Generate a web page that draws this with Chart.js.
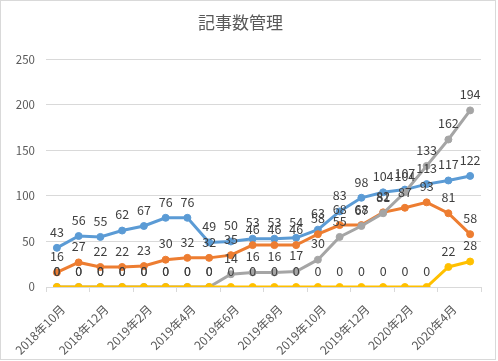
<!DOCTYPE html>
<html>
<head>
<meta charset="utf-8">
<script src="https://cdn.jsdelivr.net/npm/chart.js@4"></script>
<style>
  html, body { margin: 0; padding: 0; background: #fff; }
  #frame { position: absolute; left: 0; top: 0; width: 494px; height: 358px; border: 1px solid #d9d9d9; }
  #wrap { position: absolute; left: 0; top: 0; width: 498px; height: 361px; }
</style>
</head>
<body>
<div id="frame"></div>
<div id="wrap"><canvas id="chart"></canvas></div>
<script>
// Months (one point per month)
const months = [
    '2018年10月', '2018年11月', '2018年12月', '2019年1月', '2019年2月',
    '2019年3月', '2019年4月', '2019年5月', '2019年6月', '2019年7月',
    '2019年8月', '2019年9月', '2019年10月', '2019年11月', '2019年12月',
    '2020年1月', '2020年2月', '2020年3月', '2020年4月', '2020年5月'
];

// Series values
const series1 = [43, 56, 55, 62, 67, 76, 76, 49, 50, 53, 53, 54, 63, 83, 98, 104, 107, 113, 117, 122];
const series2 = [16, 27, 22, 22, 23, 30, 32, 32, 35, 46, 46, 46, 58, 68, 68, 82, 87, 93, 81, 58];
const series3 = [0, 0, 0, 0, 0, 0, 0, 0, 14, 16, 16, 17, 30, 55, 67, 81, 104, 133, 162, 194];
const series4 = [0, 0, 0, 0, 0, 0, 0, 0, 0, 0, 0, 0, 0, 0, 0, 0, 0, 0, 22, 28];

const seriesNames = ['系列1', '系列2', '系列3', '系列4'];
const yTicks = [0, 50, 100, 150, 200, 250];

const FONT = '"Noto Sans CJK JP", "Noto Sans", sans-serif';

// Value labels above every point
const pointLabels = {
    id: 'pointLabels',
    afterDatasetsDraw(chart) {
        const ctx = chart.ctx;
        ctx.save();
        ctx.font = '12.5px ' + FONT;
        ctx.fillStyle = '#404040';
        ctx.textAlign = 'center';
        ctx.textBaseline = 'middle';
        chart.data.datasets.forEach((ds, i) => {
            const meta = chart.getDatasetMeta(i);
            meta.data.forEach((pt, j) => {
                ctx.fillText(String(ds.data[j]), pt.x, pt.y - 16);
            });
        });
        ctx.restore();
    }
};

function makeSet(label, data, color, order) {
    return {
        label: label,
        data: data,
        borderColor: color,
        backgroundColor: color,
        borderWidth: 3,
        pointRadius: 3.5,
        pointBorderWidth: 1,
        pointBackgroundColor: color,
        pointBorderColor: color,
        tension: 0,
        order: order
    };
}

new Chart(document.getElementById('chart').getContext('2d'), {
    type: 'line',
    data: {
        labels: months,
        datasets: [
            makeSet(seriesNames[0], series1, '#5B9BD5', 3),
            makeSet(seriesNames[1], series2, '#ED7D31', 2),
            makeSet(seriesNames[2], series3, '#A5A5A5', 1),
            makeSet(seriesNames[3], series4, '#FFC000', 0)
        ]
    },
    options: {
        responsive: true,
        maintainAspectRatio: false,
        animation: false,
        layout: { padding: { left: 0, right: 17, top: 0, bottom: 0 } },
        plugins: {
            legend: { display: false },
            tooltip: { enabled: false },
            title: {
                display: true,
                text: '記事数管理',
                color: '#595959',
                font: { family: FONT, size: 17, weight: 'normal' },
                padding: { top: 12, bottom: 27 }
            }
        },
        scales: {
            x: {
                offset: true,
                grid: {
                    offset: true,
                    drawOnChartArea: false,
                    drawTicks: true,
                    tickLength: 5,
                    color: (c) => (c.index % 2 === 1 ? 'rgba(0,0,0,0)' : '#d9d9d9')
                },
                border: { color: '#d9d9d9' },
                ticks: {
                    autoSkip: false,
                    maxRotation: 45,
                    minRotation: 45,
                    padding: 10,
                    labelOffset: 6,
                    color: '#595959',
                    font: { family: FONT, size: 12 },
                    callback: (v, i) => (i % 2 === 0 ? months[i] : '')
                },
                afterFit: (s) => { s.height = 74; }
            },
            y: {
                min: 0,
                max: 250,
                afterBuildTicks: (s) => { s.ticks = yTicks.map(v => ({ value: v })); },
                grid: { color: '#d9d9d9', drawTicks: false },
                border: { display: false },
                ticks: {
                    padding: 11,
                    color: '#595959',
                    font: { family: FONT, size: 11.5 }
                },
                afterFit: (s) => { s.width = 46; }
            }
        }
    },
    plugins: [pointLabels]
});
</script>
</body>
</html>
